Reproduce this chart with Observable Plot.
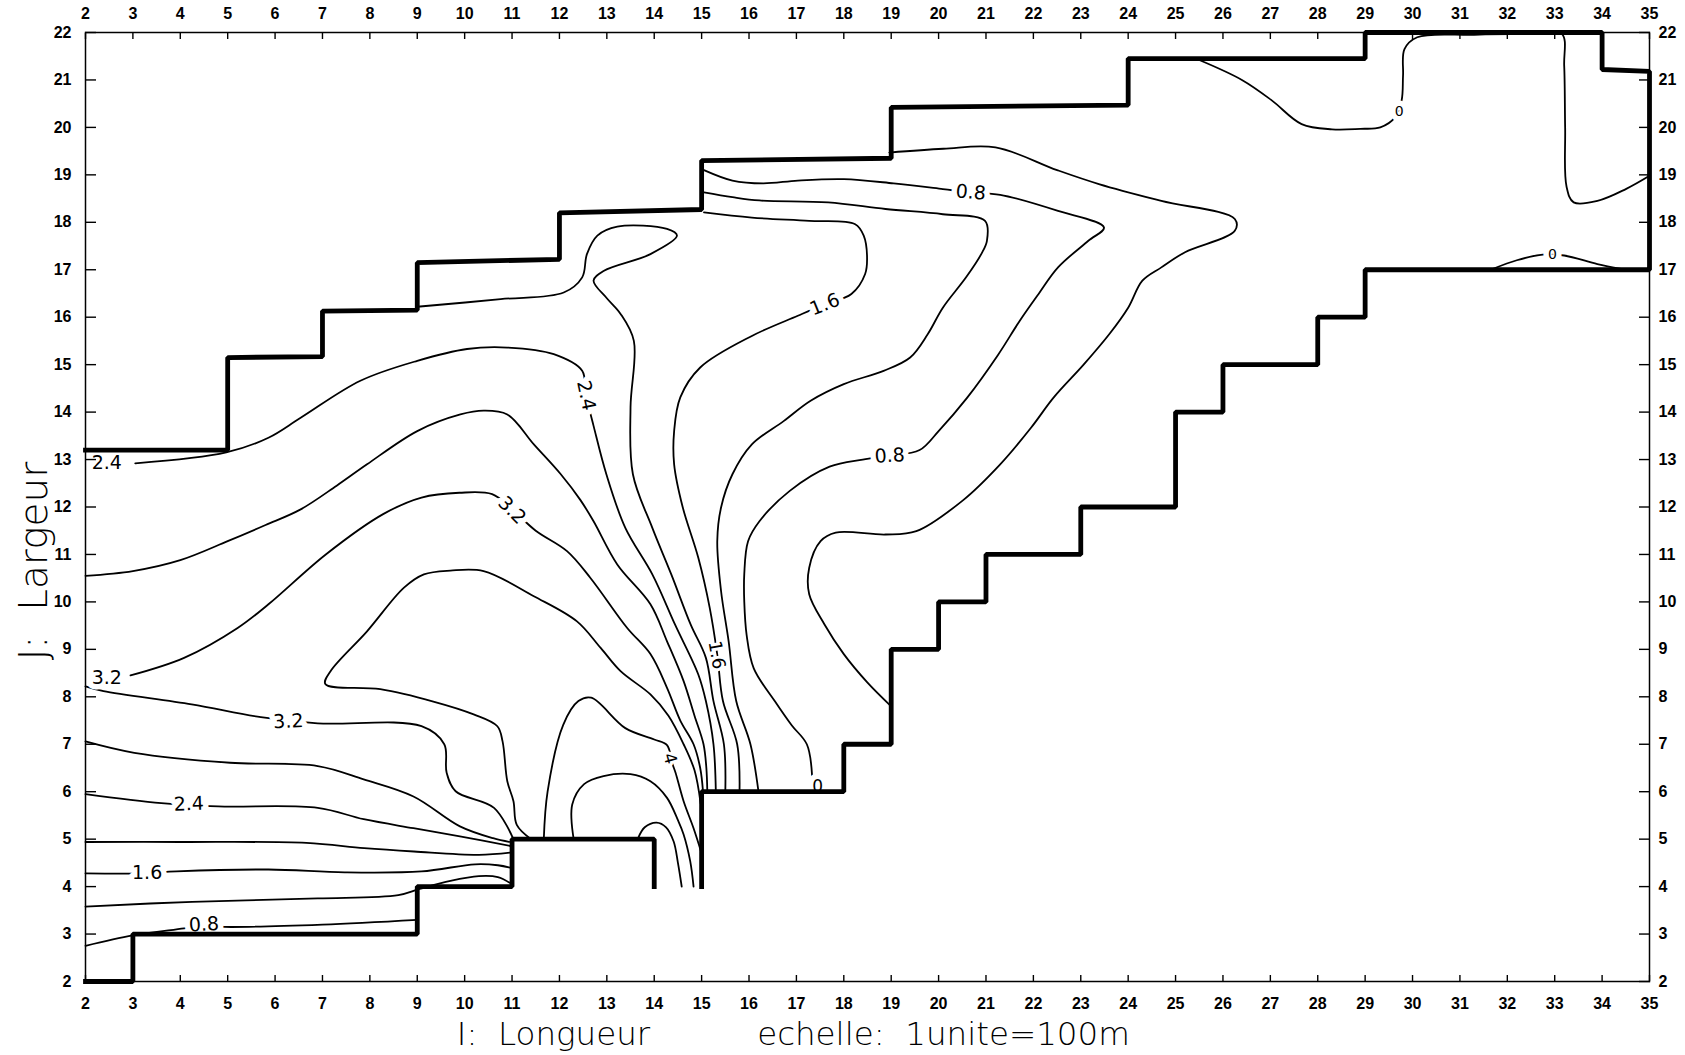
<!DOCTYPE html>
<html>
<head>
<meta charset="utf-8">
<script src="https://cdn.jsdelivr.net/npm/d3@7"></script>
<script src="https://cdn.jsdelivr.net/npm/@observablehq/plot@0.6"></script>
<style>
html, body { margin: 0; padding: 0; background: #fff; }
#chart svg text { white-space: pre; }
</style>
</head>
<body>
<div id="chart"></div>
<script>
// ---- tick values ----
const xTickValues = [2,3,4,5,6,7,8,9,10,11,12,13,14,15,16,17,18,19,20,21,22,23,24,25,26,27,28,29,30,31,32,33,34,35];
const yTickValues = [2,3,4,5,6,7,8,9,10,11,12,13,14,15,16,17,18,19,20,21,22];

// ---- domain boundary (thick staircase) ----
const boundaryMain = [[2,13.2],[5,13.2],[5,15.15],[7,15.17],[7,16.13],[9,16.15],[9,17.15],[12,17.22],[12,18.2],[15,18.27],[15,19.3],[19,19.35],[19,20.42],[24,20.47],[24,21.45],[29,21.45],[29,22],[34,22],[34,21.22],[35,21.18],[35,17],[29,17],[29,16],[28,16],[28,15],[26,15],[26,14],[25,14],[25,12],[23,12],[23,11],[21,11],[21,10],[20,10],[20,9],[19,9],[19,7],[18,7],[18,6],[15,6],[15,4]];
const boundaryLower = [[14,4],[14,5],[11,5],[11,4],[9,4],[9,3],[3,3],[3,2],[2,2]];

// ---- contour lines (I, J) ----
const c00_top = [[25.5,21.42],[26.4,21.0],[27.03,20.57],[27.66,20.07],[28.3,19.96],[28.9,19.97],[29.32,20.0],[29.63,20.21],[29.77,20.57],[29.8,21.1],[29.83,21.65],[30.1,21.9],[31.3,21.95],[32.5,21.97],[33.15,21.97],[33.2,21.3],[33.22,20.0],[33.25,18.75],[33.4,18.42],[33.9,18.45],[34.5,18.7],[35,18.98]];
const c00_low = [[31.7,17.02],[32.2,17.2],[32.75,17.32],[33.2,17.3],[33.9,17.12],[34.4,17.02]];
const c04 = [[18.96,19.47],[20.1,19.55],[21.2,19.58],[22.5,19.1],[23.4,18.8],[24.7,18.45],[26.25,18.07],[26.25,17.82],[25.2,17.37],[24.7,17.05],[24.3,16.77],[24.0,16.2],[23.6,15.64],[23.06,15.0],[22.43,14.31],[21.95,13.67],[21.3,12.9],[20.5,12.13],[19.53,11.49],[18.88,11.42],[17.83,11.46],[17.51,11.28],[17.27,10.72],[17.27,10.16],[17.59,9.53],[18.0,8.9],[18.5,8.3],[19.0,7.8]];
const c08_up = [[15.05,19.1],[15.65,18.88],[16.3,18.82],[17.03,18.88],[18.0,18.91],[19.05,18.82],[20.09,18.7],[20.66,18.63],[21.3,18.58],[22.52,18.24],[23.49,17.89],[23.16,17.61],[22.52,17.05],[22.11,16.49],[21.71,15.92],[21.25,15.2],[20.6,14.3],[20.0,13.6],[19.6,13.2],[18.95,13.08],[18.4,13.0],[17.7,12.85],[16.86,12.34],[16.22,11.7],[15.98,11.28],[15.9,10.59],[15.9,10.0],[15.95,9.3],[16.1,8.6],[16.55,7.9],[16.9,7.4],[17.22,7.0],[17.33,6.35]];
const c08_low = [[2,2.75],[3,2.97],[4.08,3.12],[4.48,3.18],[4.93,3.15],[7,3.2],[9,3.3]];
const c12_up = [[15.05,18.63],[15.65,18.53],[16.22,18.46],[17.67,18.42],[18.88,18.28],[20.09,18.17],[20.98,18.03],[21.02,17.61],[20.9,17.33],[20.58,16.84],[20.09,16.2],[19.77,15.64],[19.4,15.15],[18.84,14.87],[18.0,14.59],[17.3,14.24],[16.73,13.81],[16.06,13.32],[15.65,12.69],[15.41,11.99],[15.33,11.28],[15.41,10.23],[15.57,9.17],[15.73,7.91],[16.03,7.0],[16.2,6.0]];
const c12_low = [[2,3.58],[4.25,3.68],[6.9,3.75],[8.6,3.82],[9.05,3.95],[9.7,4.12],[10.3,4.22],[10.7,4.2],[11.0,4.05]];
const c16_up = [[15.05,18.21],[16.06,18.1],[17.27,18.03],[18.24,17.96],[18.42,17.72],[18.49,17.3],[18.45,16.91],[18.16,16.49],[17.57,16.26],[17.03,16.03],[16.05,15.6],[14.97,14.94],[14.55,14.31],[14.42,13.6],[14.42,12.9],[14.6,12.0],[14.93,10.93],[15.17,9.88],[15.33,8.89],[15.45,7.91],[15.75,7.0],[15.8,6.0]];
const c16_low = [[2,4.28],[3.23,4.28],[3.92,4.32],[5.86,4.36],[7.47,4.3],[9.09,4.32],[10.22,4.47],[10.7,4.45],[11.0,4.39]];
const c20_up = [[9.0,16.22],[10.76,16.38],[12.09,16.52],[12.48,16.84],[12.58,17.33],[12.8,17.72],[13.22,17.91],[14.27,17.86],[14.48,17.72],[13.92,17.33],[12.94,16.98],[12.72,16.77],[13.0,16.4],[13.29,16.07],[13.57,15.5],[13.5,14.1],[13.55,12.69],[13.96,11.56],[14.36,10.58],[14.77,9.52],[15.09,8.82],[15.25,7.91],[15.47,7.0],[15.5,6.0]];
const c20_low = [[2,4.94],[4,4.94],[6.66,4.92],[7.88,4.81],[8.93,4.74],[10.3,4.67],[11,4.72]];
const c24_up = [[3.05,12.92],[4.97,13.15],[5.86,13.46],[6.54,13.88],[7.8,14.66],[9.0,15.08],[10.05,15.33],[10.9,15.36],[11.88,15.22],[12.48,14.87],[12.55,14.4],[12.72,13.71],[12.99,12.69],[13.39,11.56],[13.96,10.58],[14.44,9.52],[14.93,8.47],[15.09,7.91],[15.25,7.0],[15.3,6.0]];
const c24_low = [[2,5.95],[3.6,5.76],[4.8,5.69],[6.9,5.66],[7.87,5.42],[8.92,5.23],[9.9,5.06],[11,4.85]];
const c28_up = [[2,10.55],[3,10.65],[4,10.88],[5,11.28],[5.8,11.62],[6.54,11.95],[7.3,12.45],[7.94,12.9],[9.0,13.6],[9.91,13.95],[10.4,14.03],[10.9,13.95],[11.46,13.32],[12.02,12.7],[12.44,12.15],[12.72,11.7],[13.22,10.79],[13.92,9.95],[14.27,9.17],[14.62,8.33],[14.85,7.6],[15.04,7.0],[15.1,6.5],[15.12,6.0]];
const c28_low = [[2,7.06],[3.03,6.82],[5.05,6.61],[6.9,6.54],[7.87,6.26],[8.92,5.9],[9.9,5.27],[10.6,5.02],[11,4.93]];
const c32_up = [[2.95,8.45],[4.08,8.82],[5.21,9.45],[5.86,9.95],[7.07,11.0],[8.28,11.85],[9.09,12.2],[9.89,12.3],[10.58,12.27],[11.0,11.95],[11.5,11.5],[12.16,11.07],[12.65,10.51],[13.43,9.45],[13.92,8.9],[14.27,8.19],[14.55,7.5],[14.83,7.0],[14.97,6.5],[15.03,6.0]];
const c32_low = [[2,8.22],[2.38,8.12],[4.24,7.84],[5.7,7.57],[6.9,7.44],[9.09,7.38],[9.57,7.0],[9.62,6.4],[9.81,6.01],[10.62,5.66],[11.02,5.02]];
const c36 = [[11.4,5.0],[11.1,5.3],[11.03,5.8],[10.9,6.22],[10.8,7.06],[10.69,7.38],[10.19,7.63],[9.34,7.9],[8.22,8.16],[7.06,8.27],[7.17,8.54],[7.94,9.38],[8.72,10.3],[9.14,10.58],[9.7,10.66],[10.4,10.65],[11.46,10.12],[12.37,9.59],[12.87,9.03],[13.29,8.54],[13.92,8.05],[14.3,7.6],[14.62,7.0],[14.85,6.45],[14.98,5.75]];
const c40 = [[11.67,5.0],[11.75,6.0],[12.08,7.41],[12.4,7.91],[12.67,7.98],[13.39,7.34],[14.0,7.1],[14.27,6.98],[14.38,6.6],[14.45,6.4],[14.62,5.8],[14.83,5.23],[15.0,4.7]];
const c44 = [[12.3,5.0],[12.27,5.73],[12.52,6.16],[12.93,6.33],[13.5,6.37],[13.92,6.22],[14.27,5.87],[14.5,5.4],[14.62,5.1],[14.76,4.53],[14.83,4.0]];
const c48 = [[13.65,5.0],[13.8,5.25],[14.05,5.35],[14.25,5.25],[14.41,4.95],[14.5,4.5],[14.58,4.0]];

const contourList = [c00_top, c00_low, c04, c08_up, c08_low, c12_up, c12_low, c16_up, c16_low, c20_up, c20_low, c24_up, c24_low, c28_up, c28_low, c32_up, c32_low, c36, c40, c44, c48];

// ---- contour labels ----
const labelTexts  = ["2.4","3.2","3.2","2.4","1.6","0.8","3.2","2.4","1.6","4","0","1.6","0.8","0.8","0","0"];
const labelI      = [2.45, 2.45, 6.28, 4.18, 3.3, 4.5, 11.0, 12.56, 15.32, 14.33, 17.45, 17.6, 20.68, 18.97, 29.72, 32.95];
const labelJ      = [12.92, 8.4, 7.48, 5.74, 4.29, 3.2, 11.93, 14.35, 8.88, 6.7, 6.1, 16.27, 18.63, 13.08, 20.33, 17.33];
const labelAngle  = [0, 0, -3, -2, 0, -3, 45, 78, 80, 75, 0, -22, 5, -3, 0, 0];
const labelSize   = [19, 19, 19, 19, 19, 19, 19, 19, 18, 17, 17, 19, 19, 19, 14, 14];
const labelTight  = [false,false,false,false,false,false,false,false,true,true,false,false,false,false,false,false];

// ---- build tables ----
const contourRows = contourList.flatMap((pts, k) => pts.map(([i, j]) => ({i, j, k})));
const labelRows = labelTexts.map((t, n) => ({t, i: labelI[n], j: labelJ[n], a: labelAngle[n], s: labelSize[n], tight: labelTight[n]}));

const tickFont = {fontFamily: "Liberation Sans, Arial, sans-serif", fontWeight: "bold", fontSize: 16};
const labelFont = {fontFamily: "DejaVu Sans, Liberation Sans, sans-serif", fill: "#000", stroke: "#fff", paintOrder: "stroke"};
const titleFont = {fontWeight: 300, fontFamily: "DejaVu Sans, sans-serif", fill: "#000", textAnchor: "middle"};

const chart = Plot.plot({
  width: 1685,
  height: 1055,
  marginLeft: 85,
  marginRight: 36,
  marginTop: 32,
  marginBottom: 74,
  x: {domain: [2, 35]},
  y: {domain: [2, 22]},
  style: {background: "#ffffff", color: "#000", fontFamily: "Liberation Sans, Arial, sans-serif"},
  marks: [
    Plot.line(contourRows, {x: "i", y: "j", z: "k", curve: "catmull-rom", stroke: "#000", strokeWidth: 1.8}),
    Plot.text(labelRows.filter(d => !d.tight), {x: "i", y: "j", text: "t", rotate: "a", fontSize: "s", strokeWidth: 11, ...labelFont}),
    Plot.text(labelRows.filter(d => d.tight), {x: "i", y: "j", text: "t", rotate: "a", fontSize: "s", strokeWidth: 6, ...labelFont}),
    Plot.frame({stroke: "#000", strokeWidth: 1.5}),
    Plot.axisX(xTickValues, {anchor: "bottom", tickSize: -6, tickPadding: 22, label: null, strokeWidth: 1.4, ...tickFont}),
    Plot.axisX(xTickValues, {anchor: "top", tickSize: -6, tickPadding: 20, label: null, strokeWidth: 1.4, ...tickFont}),
    Plot.axisY(yTickValues, {anchor: "left", tickSize: -11, tickPadding: 25, label: null, strokeWidth: 1.4, ...tickFont}),
    Plot.axisY(yTickValues, {anchor: "right", tickSize: -11, tickPadding: 20, label: null, strokeWidth: 1.4, ...tickFont}),
    Plot.line(boundaryMain, {x: p => p[0], y: p => p[1], stroke: "#000", strokeWidth: 4.8, strokeLinejoin: "miter", strokeLinecap: "square"}),
    Plot.line(boundaryLower, {x: p => p[0], y: p => p[1], stroke: "#000", strokeWidth: 4.8, strokeLinejoin: "miter", strokeLinecap: "square"}),
    Plot.text(["J:  Largeur"], {text: d => d, frameAnchor: "left", dx: -51, dy: 54, rotate: -90,
      fontSize: 39, letterSpacing: 7, ...titleFont}),
    Plot.text(["I:  Longueur"], {text: d => d, frameAnchor: "bottom", dx: -314, dy: 63,
      fontSize: 32.5, ...titleFont}),
    Plot.text(["echelle:  1unite=100m"], {text: d => d, frameAnchor: "bottom", dx: 76, dy: 63,
      fontSize: 32.5, ...titleFont})
  ]
});
document.getElementById("chart").append(chart);
</script>
</body>
</html>
